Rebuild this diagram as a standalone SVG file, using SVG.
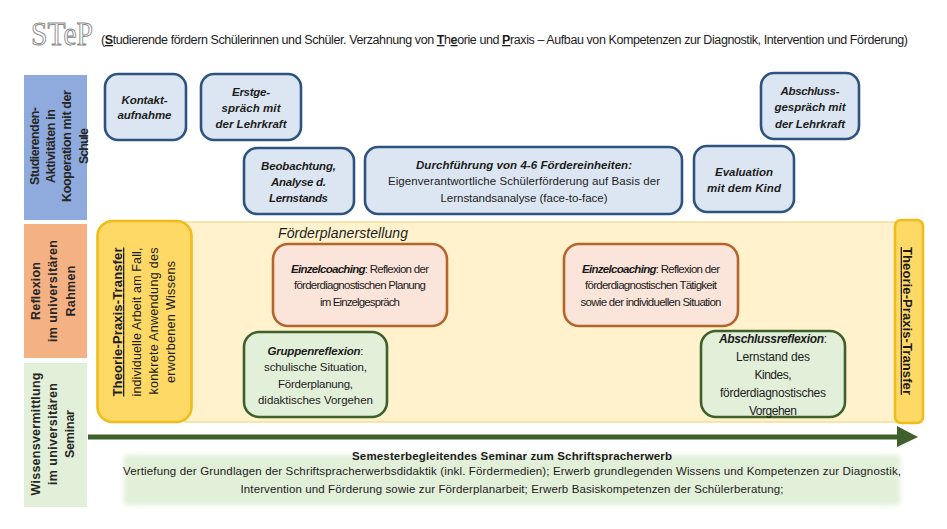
<svg xmlns="http://www.w3.org/2000/svg" width="947" height="529" viewBox="0 0 947 529">
<defs>
<filter id="soft" x="-5%" y="-20%" width="110%" height="140%"><feGaussianBlur stdDeviation="2.5"/></filter>
<marker id="head" markerUnits="userSpaceOnUse" markerWidth="22" markerHeight="22" refX="3" refY="11" orient="auto"><path d="M0 0L21 11L0 21Z" fill="#3f5f2b"/></marker>
</defs>
<style>
text{font-family:"Liberation Sans",Arial,sans-serif;fill:#1c1c1c;font-size:11.5px;text-anchor:middle}
.bi{font-weight:bold;font-style:italic}
.b{font-weight:bold}
.i{font-style:italic}
.side{font-weight:bold;font-size:12.5px;fill:#262626}
.u{text-decoration:underline}
.blue{fill:#dce6f2;stroke:#2f5380;stroke-width:2.6}
.or{fill:#fbe4d9;stroke:#b5652a;stroke-width:2.6}
.gr{fill:#e2efd9;stroke:#3f5f2b;stroke-width:2.6}
.ye{fill:#ffd966;stroke:#f0bc1c;stroke-width:2.6}
</style>
<rect width="947" height="529" fill="#fff"/>

<g id="title">
<text x="31" y="45" textLength="62" lengthAdjust="spacingAndGlyphs" style="font-family:'Liberation Serif',serif;font-size:33px;text-anchor:start;fill:#fff;stroke:#8a8a8a;stroke-width:1">STeP</text>
<text x="101" y="44" textLength="807" lengthAdjust="spacing" style="font-size:12.5px;text-anchor:start">(<tspan class="b u">S</tspan>tudierende fördern Schülerinnen und Schüler. Verzahnung von <tspan class="b u">T</tspan>h<tspan class="b u">e</tspan>orie und <tspan class="b u">P</tspan>raxis – Aufbau von Kompetenzen zur Diagnostik, Intervention und Förderung)</text>
</g>

<g id="band-aktivitaeten">
<rect x="24" y="75" width="63" height="145" fill="#8faadc"/>
<text class="side" transform="translate(39 146) rotate(-90)" textLength="78">Studierenden-</text>
<text class="side" transform="translate(55 146) rotate(-90)" textLength="74">Aktivitäten in</text>
<text class="side" transform="translate(71 146) rotate(-90)" textLength="112">Kooperation mit der</text>
<text class="side" transform="translate(88 146) rotate(-90)" textLength="36">Schule</text>
</g>
<g id="band-reflexion">
<rect x="24" y="224" width="63" height="134" fill="#f4b183"/>
<text class="side" transform="translate(40 291) rotate(-90)" textLength="58">Reflexion</text>
<text class="side" transform="translate(57 291) rotate(-90)" textLength="102">im universitären</text>
<text class="side" transform="translate(75 291) rotate(-90)" textLength="51">Rahmen</text>
</g>
<g id="band-wissen">
<rect x="24" y="363" width="63" height="144" fill="#e2efd9"/>
<text class="side" transform="translate(40 434) rotate(-90)" textLength="123">Wissensvermittlung</text>
<text class="side" transform="translate(57 434) rotate(-90)" textLength="102">im universitären</text>
<text class="side" transform="translate(74 434) rotate(-90)" textLength="48">Seminar</text>
</g>

<g id="panel">
<rect x="185" y="222" width="714" height="200" fill="#fff2cc" stroke="#f0e19a" stroke-width="1.5"/>
<text class="i" x="343" y="238" style="font-size:14px" textLength="130">Förderplanerstellung</text>
</g>

<g id="connectors">
<line x1="88" y1="437" x2="900" y2="437" stroke="#3f5f2b" stroke-width="5" marker-end="url(#head)"/>
</g>

<g id="transfer-left">
<rect class="ye" x="97.500" y="221" width="94" height="201" rx="15"/>
<text class="b u" transform="translate(122 322) rotate(-90)" style="font-size:13px" textLength="149">Theorie-Praxis-Transfer</text>
<text transform="translate(141 322) rotate(-90)" style="font-size:12.500px" textLength="149">individuelle Arbeit am Fall,</text>
<text transform="translate(158 321) rotate(-90)" style="font-size:12.500px" textLength="147">konkrete Anwendung des</text>
<text transform="translate(175 322) rotate(-90)" style="font-size:12.500px" textLength="122">erworbenen Wissens</text>
</g>
<g id="transfer-right">
<rect class="ye" x="895" y="220" width="28" height="203" rx="6"/>
<text class="b u" transform="translate(903 321) rotate(90)" style="font-size:13px" textLength="148">Theorie-Praxis-Transfer</text>
</g>

<g id="kontakt">
<rect class="blue" x="105" y="74" width="81" height="66" rx="13"/>
<text class="bi" x="144.500" y="104" textLength="46">Kontakt-</text>
<text class="bi" x="144.500" y="119" textLength="54">aufnahme</text>
</g>
<g id="erstgespraech">
<rect class="blue" x="201" y="74" width="100" height="66" rx="13"/>
<text class="bi" x="251" y="96" textLength="38">Erstge-</text>
<text class="bi" x="251" y="112" textLength="59">spräch mit</text>
<text class="bi" x="251" y="128" textLength="71">der Lehrkraft</text>
</g>
<g id="beobachtung">
<rect class="blue" x="244" y="148" width="110" height="66" rx="13"/>
<text class="bi" x="298.500" y="170" textLength="75">Beobachtung,</text>
<text class="bi" x="298.500" y="186" textLength="55">Analyse d.</text>
<text class="bi" x="298.500" y="202" textLength="59">Lernstands</text>
</g>
<g id="durchfuehrung">
<rect class="blue" x="365" y="147" width="317" height="67" rx="13"/>
<text class="bi" x="524" y="169" textLength="216">Durchführung von 4-6 Fördereinheiten:</text>
<text x="524" y="185" textLength="272">Eigenverantwortliche Schülerförderung auf Basis der</text>
<text x="524" y="202" textLength="167">Lernstandsanalyse (face-to-face)</text>
</g>
<g id="evaluation">
<rect class="blue" x="694" y="146" width="100" height="66" rx="13"/>
<text class="bi" x="744" y="176" textLength="58">Evaluation</text>
<text class="bi" x="744" y="192" textLength="74">mit dem Kind</text>
</g>
<g id="abschlussgespraech">
<rect class="blue" x="761" y="73" width="98" height="66" rx="13"/>
<text class="bi" x="810" y="95" textLength="59">Abschluss-</text>
<text class="bi" x="810" y="111" textLength="71">gespräch mit</text>
<text class="bi" x="810" y="128" textLength="70">der Lehrkraft</text>
</g>

<g id="einzelcoaching-1">
<rect class="or" x="273" y="244" width="174" height="82" rx="15"/>
<text x="360" y="273" textLength="138" lengthAdjust="spacing"><tspan class="bi">Einzelcoaching</tspan>: Reflexion der</text>
<text x="360" y="289" textLength="132">förderdiagnostischen Planung</text>
<text x="360" y="306" textLength="80">im Einzelgespräch</text>
</g>
<g id="einzelcoaching-2">
<rect class="or" x="564" y="244" width="174" height="82" rx="15"/>
<text x="651" y="273" textLength="138" lengthAdjust="spacing"><tspan class="bi">Einzelcoaching</tspan>: Reflexion der</text>
<text x="651" y="289" textLength="132">förderdiagnostischen Tätigkeit</text>
<text x="651" y="306" textLength="141">sowie der individuellen Situation</text>
</g>
<g id="gruppenreflexion">
<rect class="gr" x="244" y="332" width="143" height="85" rx="15"/>
<text x="315.500" y="355" textLength="96" lengthAdjust="spacing"><tspan class="bi">Gruppenreflexion</tspan>:</text>
<text x="315.500" y="371" textLength="103">schulische Situation,</text>
<text x="315.500" y="388" textLength="75">Förderplanung,</text>
<text x="315.500" y="404" textLength="115">didaktisches Vorgehen</text>
</g>
<g id="abschlussreflexion">
<rect class="gr" x="701" y="331" width="144" height="86" rx="15"/>
<text x="773" y="343" textLength="108" lengthAdjust="spacing" style="font-size:12px"><tspan class="bi">Abschlussreflexion</tspan>:</text>
<text x="773" y="361" textLength="74" style="font-size:12px">Lernstand des</text>
<text x="773" y="379" textLength="37" style="font-size:12px">Kindes,</text>
<text x="773" y="397" textLength="106" style="font-size:12px">förderdiagnostisches</text>
<text x="773" y="415" textLength="48" style="font-size:12px">Vorgehen</text>
</g>

<g id="seminar">
<rect x="124" y="455" width="776" height="50" fill="#e2efd9" filter="url(#soft)"/>
<text class="b" x="512" y="460" textLength="320">Semesterbegleitendes Seminar zum Schriftspracherwerb</text>
<text x="512" y="475" textLength="778">Vertiefung der Grundlagen der Schriftspracherwerbsdidaktik (inkl. Fördermedien); Erwerb grundlegenden Wissens und Kompetenzen zur Diagnostik,</text>
<text x="512" y="493" textLength="543">Intervention und Förderung sowie zur Förderplanarbeit; Erwerb Basiskompetenzen der Schülerberatung;</text>
</g>
</svg>
